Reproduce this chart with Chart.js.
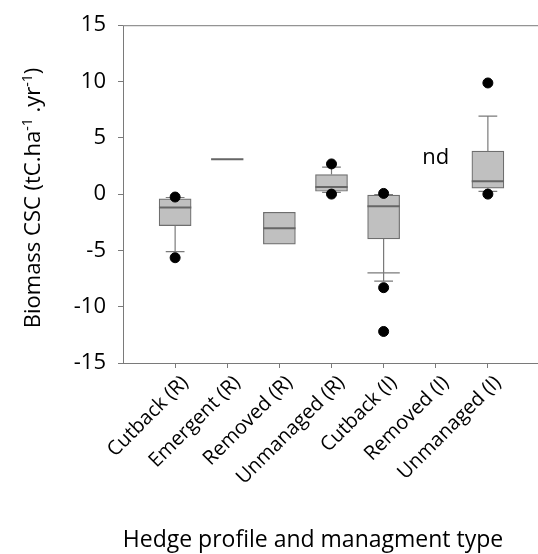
<!DOCTYPE html>
<html>
<head>
<meta charset="utf-8">
<title>Biomass CSC by hedge profile</title>
<script src="https://cdn.jsdelivr.net/npm/chart.js@4.4.0/dist/chart.umd.min.js"></script>
<style>
  html, body { margin: 0; padding: 0; background: #fff; overflow: hidden; }
  #wrap { width: 546px; height: 554px; }
</style>
</head>
<body>
<div id="wrap"><canvas id="biomassChart" width="546" height="554"></canvas></div>
<script>
// Box plot data (tC.ha-1.yr-1), one entry per hedge group
const categories = ['Cutback (R)', 'Emergent (R)', 'Removed (R)', 'Unmanaged (R)', 'Cutback (I)', 'Removed (I)', 'Unmanaged (I)'];
const q1 = [-2.8, 3.1, -4.45, 0.25, -3.98, null, 0.52];
const median = [-1.2, 3.1, -3.03, 0.63, -1.07, null, 1.15];
const q3 = [-0.43, 3.1, -1.62, 1.73, -0.09, null, 3.81];
const whiskerLow = [-5.1, null, null, 0.15, -7.73, null, 0.25];
const whiskerHigh = [-0.3, null, null, 2.4, -0.05, null, 6.93];
const extraLine = [null, null, null, null, -7.0, null, null];
const outliers = [[-0.26, -5.65], [], [], [2.68, 0.0], [0.06, -8.31, -12.2], [], [9.87, 0.0]];
const notes = ['', '', '', '', '', 'nd', ''];
const yTicks = [-15, -10, -5, 0, 5, 10, 15];

const BOX_HALF = 0.31;
const CAP_HALF = 0.18;
const GREY = '#7a7a7a';

Chart.defaults.font.family = "'Open Sans', sans-serif";
Chart.defaults.color = '#000';

// build segment lists for line datasets (null y breaks the line)
const boxData = [], medianPts = [], whiskerPts = [], capPts = [], extraPts = [], outlierPts = [];
categories.forEach((c, i) => {
    const x = i + 1;
    if (q1[i] !== null) {
        boxData.push({ x: x, y: [q1[i], q3[i]] });
        medianPts.push({ x: x - BOX_HALF, y: median[i] }, { x: x + BOX_HALF, y: median[i] }, { x: x, y: null });
    }
    if (whiskerLow[i] !== null) {
        whiskerPts.push({ x: x, y: q1[i] }, { x: x, y: whiskerLow[i] }, { x: x, y: null });
        capPts.push({ x: x - CAP_HALF, y: whiskerLow[i] }, { x: x + CAP_HALF, y: whiskerLow[i] }, { x: x, y: null });
    }
    if (whiskerHigh[i] !== null) {
        whiskerPts.push({ x: x, y: q3[i] }, { x: x, y: whiskerHigh[i] }, { x: x, y: null });
        capPts.push({ x: x - CAP_HALF, y: whiskerHigh[i] }, { x: x + CAP_HALF, y: whiskerHigh[i] }, { x: x, y: null });
    }
    if (extraLine[i] !== null) {
        extraPts.push({ x: x - BOX_HALF, y: extraLine[i] }, { x: x + BOX_HALF, y: extraLine[i] }, { x: x, y: null });
    }
    outliers[i].forEach(v => outlierPts.push({ x: x, y: v }));
});

const segLine = (data, width, color) => ({
    type: 'line',
    data: data,
    borderColor: color,
    borderWidth: width,
    pointRadius: 0,
    fill: false,
    spanGaps: false
});

// frame around the plot area, titles and the "nd" note
const decorations = {
    id: 'decorations',
    afterDraw(chart) {
        const ctx = chart.ctx;
        const area = chart.chartArea;
        const xs = chart.scales.x, ys = chart.scales.y;
        ctx.save();
        ctx.strokeStyle = GREY;
        ctx.lineWidth = 1;
        ctx.strokeRect(area.left + 0.5, area.top + 0.5, area.right - area.left, area.bottom - area.top);

        ctx.fillStyle = '#000';
        ctx.font = "22px 'Open Sans'";
        ctx.textAlign = 'center';
        ctx.textBaseline = 'middle';
        notes.forEach((t, i) => {
            if (t) ctx.fillText(t, xs.getPixelForValue(i + 1), ys.getPixelForValue(3.2));
        });

        ctx.font = "23px 'Open Sans'";
        ctx.fillText('Hedge profile and managment type', 313, 540);

        // y title with superscripts
        const parts = [
            { t: 'Biomass CSC (tC.ha', sup: false },
            { t: '-1', sup: true },
            { t: ' .yr', sup: false },
            { t: '-1', sup: true },
            { t: ')', sup: false }
        ];
        const mainFont = "22px 'Open Sans'", supFont = "14px 'Open Sans'";
        let total = 0;
        parts.forEach(p => {
            ctx.font = p.sup ? supFont : mainFont;
            p.w = ctx.measureText(p.t).width;
            total += p.w;
        });
        ctx.translate(32, 198);
        ctx.rotate(-Math.PI / 2);
        ctx.textAlign = 'left';
        ctx.textBaseline = 'alphabetic';
        let px = -total / 2;
        parts.forEach(p => {
            ctx.font = p.sup ? supFont : mainFont;
            ctx.fillText(p.t, px, p.sup ? 0 : 8);
            px += p.w;
        });
        ctx.restore();
    }
};

new Chart(document.getElementById('biomassChart'), {
    type: 'bar',
    data: {
        datasets: [
            {
                type: 'scatter',
                data: outlierPts,
                backgroundColor: '#000',
                borderColor: '#000',
                pointRadius: 5,
                pointHoverRadius: 5
            },
            segLine(medianPts, 2, '#666'),
            segLine(capPts, 1.2, GREY),
            segLine(extraPts, 1.2, GREY),
            segLine(whiskerPts, 1.2, GREY),
            {
                type: 'bar',
                data: boxData,
                backgroundColor: '#c0c0c0',
                borderColor: '#6e6e6e',
                borderWidth: 1.2,
                borderSkipped: false,
                barThickness: 32
            }
        ]
    },
    options: {
        responsive: false,
        animation: false,
        layout: { padding: { top: 16, right: 5, left: 0, bottom: 0 } },
        plugins: {
            legend: { display: false },
            tooltip: { enabled: false }
        },
        scales: {
            x: {
                type: 'linear',
                min: 0,
                max: 8,
                offset: false,
                border: { display: false },
                grid: {
                    offset: false,
                    drawOnChartArea: false,
                    drawTicks: true,
                    tickLength: 5,
                    color: ctx => (ctx.tick && ctx.tick.value >= 1 && ctx.tick.value <= 7) ? GREY : 'rgba(0,0,0,0)'
                },
                ticks: {
                    stepSize: 1,
                    autoSkip: false,
                    minRotation: 45,
                    maxRotation: 45,
                    padding: 3,
                    labelOffset: 10,
                    font: { size: 20 },
                    callback: v => categories[v - 1] || ''
                },
                afterFit: axis => {
                    axis.height = 191;
                    axis.paddingRight = 0;
                    axis.paddingLeft = 0;
                }
            },
            y: {
                min: -15,
                max: 15,
                border: { display: false },
                grid: {
                    drawOnChartArea: false,
                    drawTicks: true,
                    tickLength: 5,
                    color: GREY
                },
                ticks: {
                    stepSize: 5,
                    padding: 12,
                    font: { size: 22 },
                    callback: v => yTicks.includes(v) ? String(v) : ''
                },
                afterFit: axis => { axis.width = 123; }
            }
        }
    },
    plugins: [decorations]
});
</script>
</body>
</html>
